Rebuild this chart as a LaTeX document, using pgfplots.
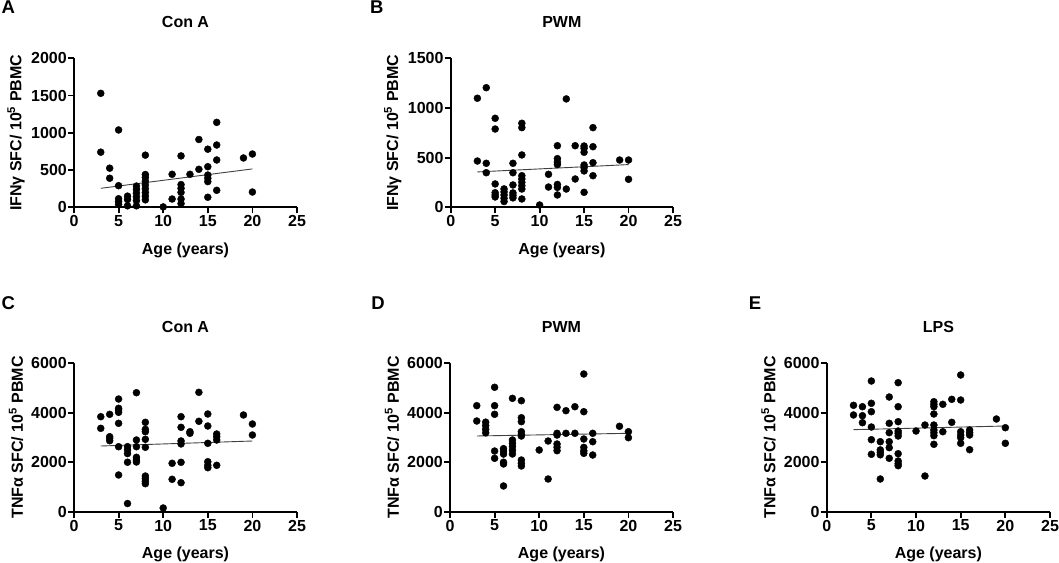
\documentclass[border=0pt]{standalone}
\usepackage{pgfplots}
\pgfplotsset{compat=1.18}
\usepackage{fontspec}
\setmainfont{Liberation Sans}
\newcommand{\pf}{\bfseries\fontsize{16}{19}\selectfont}
\pgfplotsset{
  panel/.style={
    scale only axis, width=223pt, height=149pt,
    axis x line*=bottom, axis y line*=left,
    axis line style={line width=1.8pt, black},
    xmin=0, xmax=25, xtick={0,5,...,25}, ymin=0,
    enlargelimits=false,
    tick align=outside, major tick length=6pt,
    tick style={line width=1.8pt, black},
    clip=false,
    /pgf/number format/assume math mode=true,
    /pgf/number format/1000 sep={},
    ticklabel style={font=\pf},
    yticklabel style={inner sep=1pt},
    xticklabel style={inner sep=2pt},
    label style={font=\pf},
    xlabel={Age (years)},
    xlabel style={at={(axis description cs:0.5,0)}, anchor=north, inner sep=0pt, yshift=-35pt},
    ylabel style={at={(axis description cs:-0.26,0.5)}, anchor=center, rotate=0, inner sep=0pt},
    title style={font=\pf, at={(axis description cs:0.5,1)}, anchor=center, yshift=30pt, inner sep=0pt},
  },
  pts/.style={only marks, mark=*, mark size=3.5pt, black, mark options={fill=black, draw=black}},
  fit/.style={no marks, black!75, line width=0.9pt},
}
\begin{document}
\begin{tikzpicture}[x=1pt,y=1pt]
\useasboundingbox (0,0) rectangle (1059,562);
% Panel letters
\node[font=\bfseries\fontsize{18.5}{20}\selectfont, inner sep=0pt] at (8.3,554.7) {A};
\node[font=\bfseries\fontsize{18.5}{20}\selectfont, inner sep=0pt] at (376.7,554.7) {B};
\node[font=\bfseries\fontsize{18.5}{20}\selectfont, inner sep=0pt] at (8.3,258.7) {C};
\node[font=\bfseries\fontsize{18.5}{20}\selectfont, inner sep=0pt] at (378,259.3) {D};
\node[font=\bfseries\fontsize{18.5}{20}\selectfont, inner sep=0pt] at (755,259) {E};

% A
\begin{axis}[panel, at={(74pt,354.7pt)}, anchor=south west, width=223pt, height=149pt,
  ymax=2000, ytick={0,500,1000,1500,2000}, title={Con A},
  ylabel={IFNγ SFC/ 10\textsuperscript{5} PBMC}]
\addplot[pts] table[row sep=\\] {
x y\\
3 1530\\ 3 740\\ 4 525\\ 4 390\\
5 1038\\ 5 290\\ 5 115\\ 5 78\\ 5 40\\
6 150\\ 6 105\\ 6 20\\
7 285\\ 7 240\\ 7 190\\ 7 140\\ 7 90\\ 7 20\\
8 700\\ 8 440\\ 8 400\\ 8 350\\ 8 300\\ 8 250\\ 8 200\\ 8 150\\ 8 100\\
10 5\\ 11 443\\ 11 111\\
12 690\\ 12 305\\ 12 255\\ 12 200\\ 12 111\\ 12 50\\
13 443\\ 14 910\\ 14 510\\
15 780\\ 15 545\\ 15 433\\ 15 390\\ 15 345\\ 15 135\\
16 1140\\ 16 836\\ 16 635\\ 16 228\\
19 662\\ 20 715\\ 20 205\\
};
\addplot[fit] coordinates {(3,255) (20,515)};
\end{axis}

% B
\begin{axis}[panel, at={(450.7pt,354.7pt)}, anchor=south west, width=222.3pt, height=149pt,
  ymax=1500, ytick={0,500,1000,1500}, title={PWM},
  ylabel={IFNγ SFC/ 10\textsuperscript{5} PBMC}]
\addplot[pts] table[row sep=\\] {
x y\\
3 1098\\ 3 466\\ 4 1204\\ 4 443\\ 4 348\\
5 896\\ 5 788\\ 5 235\\ 5 147\\ 5 124\\ 5 104\\
6 185\\ 6 155\\ 6 124\\ 6 91\\ 6 58\\
7 443\\ 7 348\\ 7 225\\ 7 145\\ 7 120\\ 7 95\\
8 846\\ 8 802\\ 8 527\\ 8 318\\ 8 285\\ 8 252\\ 8 217\\ 8 184\\ 8 84\\
10 23\\ 11 332\\ 11 204\\
12 620\\ 12 490\\ 12 455\\ 12 430\\ 12 230\\ 12 200\\ 12 124\\
13 1091\\ 13 184\\ 14 620\\ 14 285\\
15 617\\ 15 594\\ 15 554\\ 15 426\\ 15 399\\ 15 366\\ 15 151\\
16 802\\ 16 610\\ 16 449\\ 16 318\\
19 476\\ 20 476\\ 20 282\\
};
\addplot[fit] coordinates {(3,356) (20,430)};
\end{axis}

% C
\begin{axis}[panel, at={(74pt,50.3pt)}, anchor=south west, width=223pt, height=148.4pt,
  ymax=6000, ytick={0,2000,4000,6000}, title={Con A},
  ylabel={TNFα SFC/ 10\textsuperscript{5} PBMC}]
\addplot[pts] table[row sep=\\] {
x y\\
3 3841\\ 3 3371\\ 4 3937\\ 4 3032\\ 4 2968\\ 4 2870\\
5 4556\\ 5 4180\\ 5 4112\\ 5 4018\\ 5 3574\\ 5 2628\\ 5 1484\\
6 2630\\ 6 2500\\ 6 2350\\ 6 2000\\ 6 330\\
7 4812\\ 7 2899\\ 7 2628\\ 7 2199\\ 7 2090\\ 7 2009\\
8 3614\\ 8 3331\\ 8 3234\\ 8 2927\\ 8 2604\\ 8 1443\\ 8 1334\\ 8 1229\\ 8 1132\\
10 150\\ 11 1957\\ 11 1310\\
12 3841\\ 12 3412\\ 12 2860\\ 12 2740\\ 12 1997\\ 12 1172\\
13 3234\\ 13 3170\\ 14 4827\\ 14 3655\\
15 3950\\ 15 3465\\ 15 2765\\ 15 2022\\ 15 1876\\ 15 1779\\
16 3141\\ 16 3032\\ 16 2899\\ 16 1876\\
19 3910\\ 20 3546\\ 20 3101\\
};
\addplot[fit] coordinates {(3,2656) (20,2858)};
\end{axis}

% D
\begin{axis}[panel, at={(450pt,50.3pt)}, anchor=south west, width=223pt, height=148.4pt,
  ymax=6000, ytick={0,2000,4000,6000}, title={PWM},
  ylabel={TNFα SFC/ 10\textsuperscript{5} PBMC}]
\addplot[pts] table[row sep=\\] {
x y\\
3 4287\\ 3 3667\\ 4 3620\\ 4 3480\\ 4 3330\\ 4 3190\\
5 5030\\ 5 4287\\ 5 3938\\ 5 2453\\ 5 2159\\
6 2550\\ 6 2450\\ 6 2330\\ 6 2000\\ 6 1930\\ 6 1040\\
7 4583\\ 7 2899\\ 7 2765\\ 7 2628\\ 7 2482\\ 7 2333\\
8 4488\\ 8 3800\\ 8 3640\\ 8 3234\\ 8 3129\\ 8 3060\\ 8 2090\\ 8 1957\\ 8 1848\\
10 2494\\ 11 2858\\ 11 1322\\
12 4220\\ 12 3170\\ 12 3100\\ 12 2737\\ 12 2603\\ 12 2466\\
13 4083\\ 13 3170\\ 14 4245\\ 14 3170\\
15 5567\\ 15 4043\\ 15 2939\\ 15 2600\\ 15 2460\\ 15 2360\\
16 3170\\ 16 2830\\ 16 2292\\
19 3453\\ 20 3234\\ 20 2993\\
};
\addplot[fit] coordinates {(3,3061) (20,3169)};
\end{axis}

% E
\begin{axis}[panel, at={(826.7pt,50.3pt)}, anchor=south west, width=223.3pt, height=148.4pt,
  ymax=6000, ytick={0,2000,4000,6000}, title={LPS},
  ylabel={TNFα SFC/ 10\textsuperscript{5} PBMC}]
\addplot[pts] table[row sep=\\] {
x y\\
3 4301\\ 3 3910\\ 4 4245\\ 4 3881\\ 4 3598\\
5 5284\\ 5 4383\\ 5 4043\\ 5 3424\\ 5 2911\\ 5 2321\\
6 2830\\ 6 2500\\ 6 2400\\ 6 2300\\ 6 1322\\
7 4637\\ 7 3574\\ 7 3194\\ 7 2830\\ 7 2588\\ 7 2159\\
8 5216\\ 8 4245\\ 8 3639\\ 8 3262\\ 8 3170\\ 8 3060\\ 8 2345\\ 8 2050\\ 8 1941\\ 8 1860\\
10 3262\\ 11 3505\\ 11 1443\\
12 4447\\ 12 4342\\ 12 4245\\ 12 3950\\ 12 3505\\ 12 3303\\ 12 3194\\ 12 3073\\ 12 2725\\
13 4342\\ 13 3234\\ 14 4544\\ 14 3614\\
15 5527\\ 15 4516\\ 15 3234\\ 15 3101\\ 15 2992\\ 15 2765\\
16 3303\\ 16 3194\\ 16 3101\\ 16 2507\\
19 3748\\ 20 3396\\ 20 2765\\
};
\addplot[fit] coordinates {(3,3317) (20,3465)};
\end{axis}
\end{tikzpicture}
\end{document}
